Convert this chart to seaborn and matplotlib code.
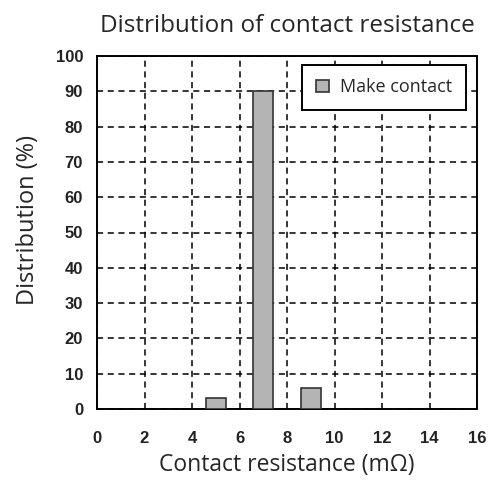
import pandas as pd
import matplotlib.pyplot as plt
import seaborn as sns

resistance = [5, 7, 9]
distribution = [3, 90, 6]
series_name = "Make contact"

df = pd.DataFrame({"resistance": resistance, "distribution": distribution})

sns.set_style("white")
plt.rcParams["font.family"] = ["Liberation Sans", "DejaVu Sans"]

fig = plt.figure(figsize=(4.91, 4.82), dpi=100)
ax = fig.add_axes([97 / 491, 1 - 409 / 482, 380 / 491, 353 / 482])

sns.barplot(data=df, x="resistance", y="distribution", native_scale=True,
            width=0.425, color="#b4b4b4", edgecolor="#333333", linewidth=1.2,
            saturation=1, label=series_name, ax=ax, zorder=3)

ax.set_xlim(0, 16)
ax.set_ylim(0, 100)
ax.set_xticks(range(0, 17, 2))
ax.set_yticks(range(0, 101, 10))
ax.grid(True, color="black", linestyle=(0, (4, 3)), linewidth=1.1, zorder=0)
for s in ax.spines.values():
    s.set_color("black")
    s.set_linewidth(1.4)
ax.tick_params(axis="x", labelsize=12, length=0, pad=16)
ax.tick_params(axis="y", labelsize=12, length=0, pad=10)
for lab in ax.get_xticklabels() + ax.get_yticklabels():
    lab.set_fontweight("bold")
    lab.set_color("#222222")

tfont = ["Open Sans", "DejaVu Sans"]
ax.set_xlabel("Contact resistance (mΩ)", fontsize=16.5, family=tfont, labelpad=5)
ax.set_ylabel("Distribution (%)", fontsize=17, family=tfont)
ax.yaxis.set_label_coords(-0.15, 0.535)
ax.set_title("Distribution of contact resistance", fontsize=17.5, family=tfont, pad=17)

leg = ax.legend(loc="upper right", fancybox=False, framealpha=1, edgecolor="black",
                prop={"family": tfont, "size": 13},
                handlelength=0.75, handleheight=0.6, handletextpad=0.6,
                borderpad=0.75, borderaxespad=0, bbox_to_anchor=(0.971, 0.975))
leg.get_frame().set_linewidth(1.4)

fig.savefig("out.png", dpi=100)
